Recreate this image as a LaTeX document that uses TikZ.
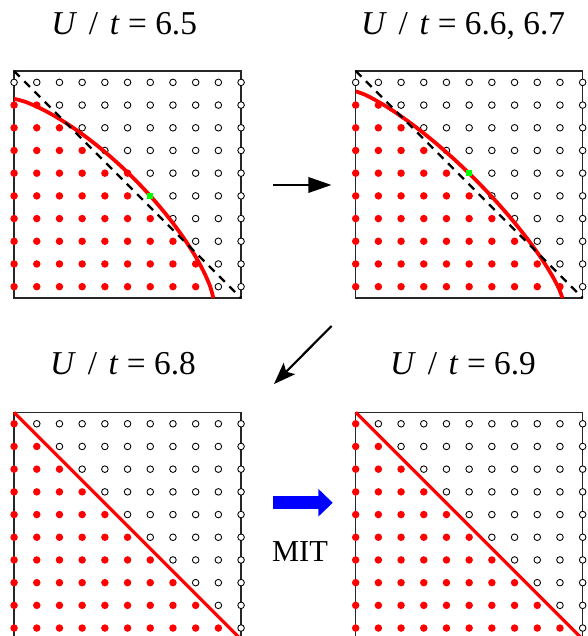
\documentclass[tikz,border=0pt]{standalone}
\usepackage{fontspec}
\setmainfont{Liberation Serif}
\usetikzlibrary{arrows.meta}

% occupied sites: one count per row (top row first), #2/#3 = column/row of the green site
\newcommand{\sites}[3]{%
  \foreach \n [count=\r from 0] in {#1} {
    \foreach \c in {0,...,10} {
      \ifnum\c<\n
        \fill[occ] (\c,9.5-\r) circle (0.165);
      \else
        \pgfmathtruncatemacro\isgreen{and(\c==#2,\r==#3)}
        \ifnum\isgreen=0 \draw[vac] (\c,9.5-\r) circle (0.145); \fi
      \fi
    }
  }
}

\begin{document}
\begin{tikzpicture}[x=0.55cm, y=0.55cm,
  frame/.style={draw=black!85, line width=1pt},
  occ/.style={fill=red},
  vac/.style={draw=black, fill=white, line width=0.6pt},
  fermi/.style={red, line width=2.6pt},
  nest/.style={black, line width=1.6pt, dash pattern=on 5.5pt off 4.5pt},
  border/.style={red, line width=2.2pt},
  hole/.style={fill=green},
  title/.style={anchor=base, font=\fontsize{23}{26}\selectfont},
  flow/.style={line width=1.9pt, -{Triangle[length=16pt,width=10.5pt]}},
  jump/.style={blue, line width=8.75pt, -{Triangle[length=9.9pt,width=18.4pt]}}
]
\useasboundingbox (0,0) rectangle (25.90,28.02);
\clip (0,0) rectangle (25.90,28.02);

% U/t = 6.5
\begin{scope}[shift={(0.62,14.89)}]
  \draw[frame] (0,0) rectangle (10,10);
  \sites{0,2,3,4,6,6,7,8,9,9}{6}{5}
  \draw[fermi] plot[domain=0:90, samples=80, variable=\t]
    ({8.77*pow(max(cos(\t),0.001),1.47)}, {8.77*pow(max(sin(\t),0.001),1.47)});
  \draw[nest] (0,10) -- (10,0);
  \fill[hole] (6,4.5) ++(-0.14,-0.14) rectangle ++(0.28,0.28);
\end{scope}

% U/t = 6.6, 6.7
\begin{scope}[shift={(15.67,14.89)}]
  \draw[frame] (0,0) rectangle (10,10);
  \sites{0,2,3,4,5,6,7,8,9,10}{5}{4}
  \draw[fermi] plot[domain=0:90, samples=80, variable=\t]
    ({9.1*pow(max(cos(\t),0.001),1.59)}, {9.1*pow(max(sin(\t),0.001),1.59)});
  \draw[nest] (0,10) -- (10,0);
  \fill[hole] (5,5.5) ++(-0.14,-0.14) rectangle ++(0.28,0.28);
\end{scope}

% U/t = 6.8
\begin{scope}[shift={(0.62,-0.15)}]
  \draw[frame] (0,0) rectangle (10,10);
  \sites{1,2,3,4,5,6,7,8,9,10}{-1}{-1}
  \draw[border] (0,10) -- (10,0);
\end{scope}

% U/t = 6.9
\begin{scope}[shift={(15.67,-0.15)}]
  \draw[frame] (0,0) rectangle (10,10);
  \sites{1,2,3,4,5,6,7,8,9,10}{-1}{-1}
  \draw[border] (0,10) -- (10,0);
\end{scope}

\node[title] (t1) at (5.47,26.48) {\textit{U}\hspace{0.35em}/\hspace{0.35em}\textit{t}\hspace{0.25em}=\hspace{0.25em}6.5};
\node[title] (t2) at (20.40,26.48) {\textit{U}\hspace{0.35em}/\hspace{0.35em}\textit{t}\hspace{0.25em}=\hspace{0.25em}6.6, 6.7};
\node[title] (t3) at (5.42,11.50) {\textit{U}\hspace{0.35em}/\hspace{0.35em}\textit{t}\hspace{0.25em}=\hspace{0.25em}6.8};
\node[title] (t4) at (20.40,11.50) {\textit{U}\hspace{0.35em}/\hspace{0.35em}\textit{t}\hspace{0.25em}=\hspace{0.25em}6.9};

\coordinate (a1) at (12.04,19.87);
\coordinate (b1) at (14.61,19.87);
\coordinate (a2) at (14.61,13.66);
\coordinate (b2) at (12.07,11.10);
\coordinate (a3) at (12.03,5.87);
\coordinate (b3) at (14.66,5.87);
\draw[flow] (a1) -- (b1);
\draw[line width=1.5pt, -{Stealth[length=15pt,width=11pt,inset=3pt]}] (a2) -- (b2);
\draw[jump] (a3) -- (b3);
\node[title, font=\fontsize{21}{24}\selectfont] (mit) at (13.22,3.30) {MIT};
\end{tikzpicture}
\end{document}
